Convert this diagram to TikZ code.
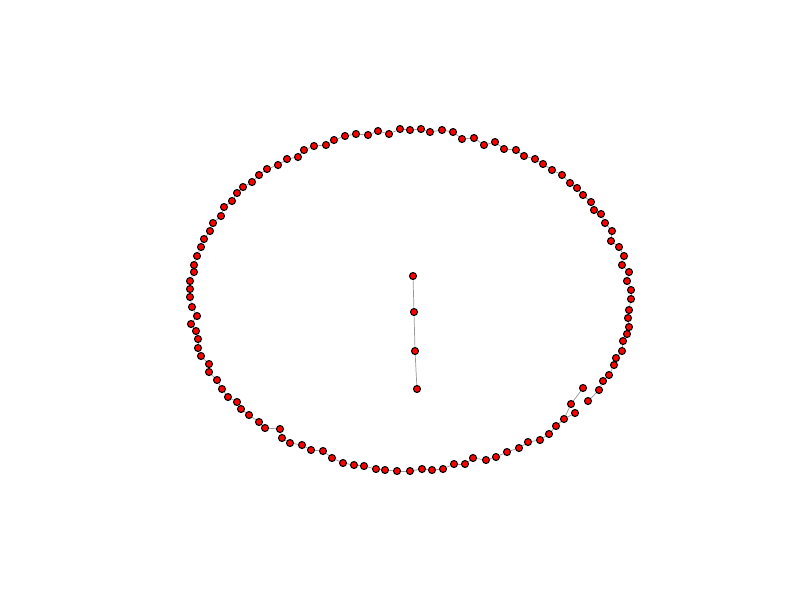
\documentclass[tikz,border=0pt]{standalone}
\usetikzlibrary{backgrounds}

\begin{document}
\begin{tikzpicture}[
    x=0.02cm, y=-0.02cm,
    vtx/.style={circle, draw=black, fill=red, line width=0.6pt, inner sep=0pt, minimum size=0.14cm},
    edge/.style={gray!80, line width=0.4pt}
]
    \useasboundingbox (0,0) rectangle (800,600);

    % outer ring, one open chain
    \foreach \px/\py [count=\i] in {583/388, 571/404, 564/419, 556/426, 549/434, 540/440, 528/442, 519/448,
        507/452, 496/457, 486/460, 473/458, 465/464, 454/464, 443/469, 432/470, 422/469, 410/471,
        397/471, 385/470, 376/469, 364/466, 354/465, 343/463, 332/458, 323/451, 311/450, 302/445,
        290/443, 282/438, 280/429, 265/428, 259/422, 249/415, 241/409, 237/402, 228/397, 222/389,
        217/380, 209/372, 209/364, 201/356, 198/348, 198/339, 196/331, 191/324, 197/316, 192/307,
        190/297, 190/289, 190/281, 194/272, 194/265, 197/256, 201/247, 204/239, 210/231, 213/223,
        221/216, 224/207, 232/201, 237/193, 243/187, 252/182, 259/175, 267/169, 278/165, 287/159,
        298/157, 304/150, 314/146, 326/145, 334/140, 345/136, 356/134, 368/135, 378/131, 389/134,
        400/129, 410/130, 421/129, 430/132, 442/130, 453/132, 462/139, 474/138, 484/145, 495/142,
        504/149, 516/150, 524/156, 535/159, 543/164, 552/170, 562/175, 570/183, 577/188, 583/195,
        591/202, 594/210, 601/214, 605/223, 612/231, 611/241, 619/247, 624/256, 622/265, 629/272,
        627/281, 631/290, 631/299, 629/310, 628/318, 629/327, 627/334, 623/341, 622/351, 616/358,
        614/365, 609/375, 603/381, 599/390, 588/401}
        \node [vtx] (r\i) at (\px,\py) {};
    \node [vtx] (spur) at (575,413) {};

    % inner chain
    \foreach \px/\py [count=\i] in {413/276, 414/312, 415/351, 417/389}
        \node [vtx] (c\i) at (\px,\py) {};

    \begin{scope}[on background layer]
        \foreach \i in {1,...,122} {
            \pgfmathtruncatemacro{\j}{\i+1}
            \draw [edge] (r\i) -- (r\j);
        }
        \draw [edge] (spur) -- (r3);
        \draw [edge] (c1) -- (c2) -- (c3) -- (c4);
    \end{scope}
\end{tikzpicture}
\end{document}
